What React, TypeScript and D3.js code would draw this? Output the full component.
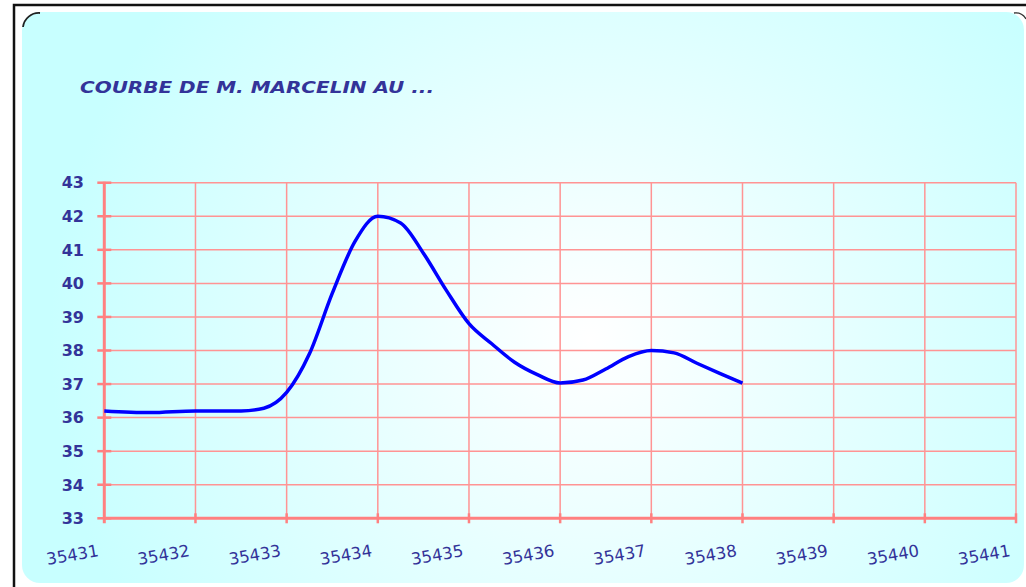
import { useEffect, useRef } from 'react';
import * as d3 from 'd3';

// readings (day, temperature)
const days = [
  35431, 35431.5, 35432, 35432.5, 35432.75, 35433, 35433.25, 35433.5, 35433.75, 35434,
  35434.25, 35434.5, 35434.75, 35435, 35435.25, 35435.5, 35435.75, 35436, 35436.25,
  35436.5, 35436.75, 35437, 35437.25, 35437.5, 35437.75, 35438,
];
const temps = [
  36.2, 36.15, 36.2, 36.2, 36.28, 36.75, 37.9, 39.7, 41.25, 42.0,
  41.8, 40.9, 39.8, 38.8, 38.2, 37.65, 37.28, 37.03, 37.12,
  37.45, 37.82, 38.0, 37.93, 37.62, 37.32, 37.03,
];

const xTicks = [35431, 35432, 35433, 35434, 35435, 35436, 35437, 35438, 35439, 35440, 35441];
const yTicks = [33, 34, 35, 36, 37, 38, 39, 40, 41, 42, 43];

const title = 'COURBE DE M. MARCELIN AU ...';

const W = 1026;
const H = 587;

export default function App() {
  const ref = useRef<SVGSVGElement | null>(null);

  useEffect(() => {
    const svg = d3.select(ref.current);
    svg.selectAll('*').remove();

    const ink = '#333399';
    const grid = '#ff9494';

    const defs = svg.append('defs');
    const rg = defs.append('radialGradient').attr('id', 'bg')
      .attr('gradientUnits', 'userSpaceOnUse')
      .attr('cx', 590).attr('cy', 340).attr('r', 540);
    rg.append('stop').attr('offset', '0%').attr('stop-color', '#ffffff');
    rg.append('stop').attr('offset', '100%').attr('stop-color', '#c8ffff');

    // outer frame
    svg.append('path').attr('d', `M14,${H + 5} L14,5 L${W + 5},5`)
      .attr('fill', 'none').attr('stroke', '#111').attr('stroke-width', 2.5);

    // panel
    svg.append('rect').attr('x', 22).attr('y', 12).attr('width', W - 24).attr('height', 571)
      .attr('rx', 18).attr('fill', 'url(#bg)');
    svg.append('path').attr('d', 'M23,27 A16,16 0 0 1 40,13')
      .attr('fill', 'none').attr('stroke', '#222').attr('stroke-width', 1.8);
    svg.append('path').attr('d', `M${W - 12},13 A12,12 0 0 1 ${W},19`)
      .attr('fill', 'none').attr('stroke', '#333').attr('stroke-width', 1.3);

    svg.append('text').attr('x', 80).attr('y', 93)
      .attr('font-family', 'DejaVu Sans, sans-serif').attr('font-weight', 'bold')
      .attr('font-style', 'italic').attr('font-size', 16.5).attr('fill', ink)
      .attr('textLength', 354).attr('lengthAdjust', 'spacingAndGlyphs')
      .text(title);

    const x = d3.scaleLinear().domain([35431, 35441]).range([104.3, 1016]);
    const y = d3.scaleLinear().domain([33, 43]).range([518.3, 182.7]);

    const g = svg.append('g');

    // gridlines
    g.selectAll('.hg').data(yTicks.slice(1)).enter().append('line')
      .attr('x1', x(35431)).attr('x2', x(35441))
      .attr('y1', d => y(d)).attr('y2', d => y(d))
      .attr('stroke', grid).attr('stroke-width', 1.5);
    g.selectAll('.vg').data(xTicks.slice(1)).enter().append('line')
      .attr('x1', d => x(d)).attr('x2', d => x(d))
      .attr('y1', y(43)).attr('y2', y(33))
      .attr('stroke', grid).attr('stroke-width', 1.5);

    // axes
    g.append('line').attr('x1', x(35431)).attr('x2', x(35431)).attr('y1', y(43) - 1).attr('y2', y(33) + 5)
      .attr('stroke', '#ff8080').attr('stroke-width', 3);
    g.append('line').attr('x1', x(35431) - 1).attr('x2', x(35441) + 1).attr('y1', y(33)).attr('y2', y(33))
      .attr('stroke', '#ff8080').attr('stroke-width', 3);
    g.selectAll('.yt').data(yTicks).enter().append('line')
      .attr('x1', x(35431) - 7).attr('x2', x(35431) + 7)
      .attr('y1', d => y(d)).attr('y2', d => y(d))
      .attr('stroke', '#ff8080').attr('stroke-width', 2.5);
    g.selectAll('.xt').data(xTicks.slice(1)).enter().append('line')
      .attr('x1', d => x(d)).attr('x2', d => x(d))
      .attr('y1', y(33) - 5).attr('y2', y(33) + 5)
      .attr('stroke', '#ff8080').attr('stroke-width', 2.5);

    // labels
    g.selectAll('.yl').data(yTicks).enter().append('text')
      .attr('x', 84).attr('y', d => y(d)).attr('dy', '0.36em')
      .attr('text-anchor', 'end').attr('font-family', 'DejaVu Sans, sans-serif')
      .attr('font-weight', 'bold').attr('font-size', 16).attr('fill', ink)
      .text(d => d);
    g.selectAll('.xl').data(xTicks).enter().append('text')
      .attr('transform', d => `translate(${x(d) - 5},556) rotate(-10)`)
      .attr('text-anchor', 'end').attr('font-family', 'DejaVu Sans, sans-serif')
      .attr('font-size', 16.5).attr('fill', ink)
      .text(d => d);

    const line = d3.line<number>()
      .x((_, i) => x(days[i]))
      .y(d => y(d))
      .curve(d3.curveMonotoneX);
    g.append('path').attr('d', line(temps))
      .attr('fill', 'none').attr('stroke', '#0000ff').attr('stroke-width', 3.5)
      .attr('stroke-linejoin', 'round');
  }, []);

  return (
    <svg ref={ref} width={W} height={H}
      style={{ position: 'absolute', left: 0, top: 0, background: '#fff' }} />
  );
}
